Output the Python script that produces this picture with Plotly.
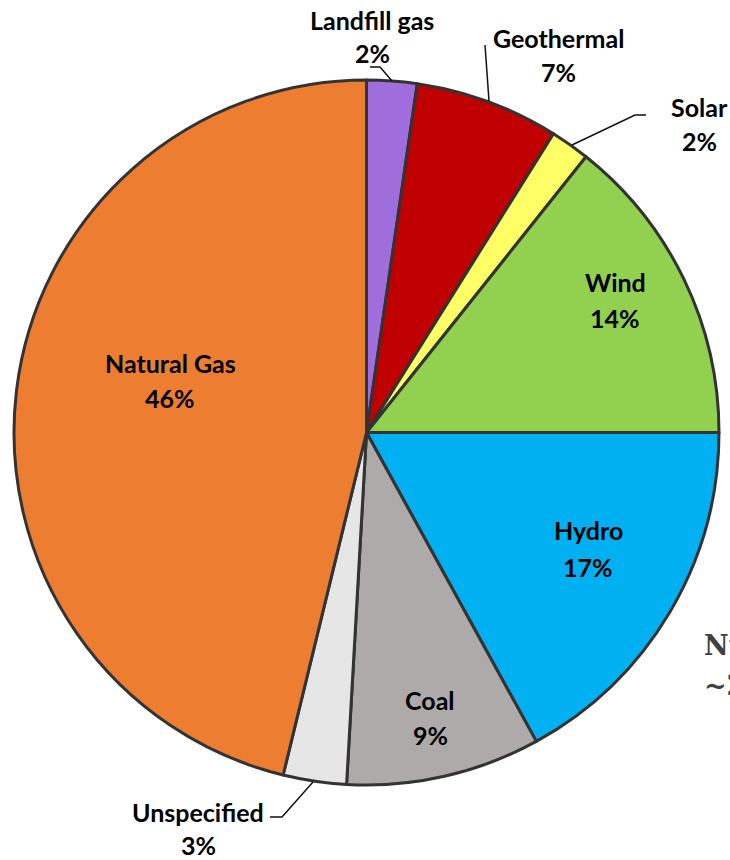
import plotly.graph_objects as go

labels = ["Landfill gas", "Geothermal", "Solar", "Wind", "Hydro", "Coal", "Unspecified", "Natural Gas"]
values = [2.3, 6.6, 1.8, 14.3, 17.0, 8.9, 2.9, 46.2]
colors = ["#A06EDC", "#C00000", "#FFFF66", "#92D050", "#00B0F0", "#AEAAAA", "#E7E6E6", "#ED7D31"]

W, H = 730, 860
# label anchor positions (pixels, name line / pct line)
label_pos = {
    "Landfill gas": (372, 20, 53),
    "Geothermal": (558, 38, 72),
    "Solar": (699, 107, 141),
    "Wind": (615, 282, 318),
    "Hydro": (588, 530, 567),
    "Coal": (430, 700, 735),
    "Unspecified": (198, 812, 845),
    "Natural Gas": (170, 363, 398),
}
leaders = [
    [(370, 67), (380, 67), (392, 81)],
    [(485, 45), (489, 101)],
    [(646, 115), (635, 115), (572, 145)],
    [(270, 817), (282, 817), (313, 782)],
]

fig = go.Figure(go.Pie(
    labels=labels, values=values, sort=False, direction="clockwise", rotation=0,
    marker=dict(colors=colors, line=dict(color="#333333", width=3)),
    textinfo="none", hoverinfo="label+percent", showlegend=False,
    domain=dict(x=[14 / W, 719 / W], y=[(H - 785) / H, (H - 80) / H]),
))

font = dict(family="Lato, Open Sans, sans-serif", size=25, color="#000000")
annotations = []
for lab, v in zip(labels, values):
    x, y1, y2 = label_pos[lab]
    annotations.append(dict(x=x / W, y=1 - y1 / H, xref="paper", yref="paper", text=f"<b>{lab}</b>",
                            showarrow=False, font=font, xanchor="center", yanchor="middle"))
    annotations.append(dict(x=x / W, y=1 - y2 / H, xref="paper", yref="paper", text=f"<b>{round(v)}%</b>",
                            showarrow=False, font=font, xanchor="center", yanchor="middle"))

serif = dict(family="DejaVu Serif, Liberation Serif, serif", size=27, color="#404040")
annotations.append(dict(x=702 / W, y=1 - 645 / H, xref="paper", yref="paper", text="<b>Nuclear</b>",
                        showarrow=False, font=serif, xanchor="left", yanchor="middle"))
annotations.append(dict(x=702 / W, y=1 - 685 / H, xref="paper", yref="paper", text="<b>~2%</b>",
                        showarrow=False, font=serif, xanchor="left", yanchor="middle"))

shapes = []
for pts in leaders:
    path = "M " + " L ".join(f"{px / W},{1 - py / H}" for px, py in pts)
    shapes.append(dict(type="path", path=path, xref="paper", yref="paper",
                       line=dict(color="#111111", width=1.5)))

fig.update_layout(width=W, height=H, margin=dict(l=0, r=0, t=0, b=0),
                  paper_bgcolor="white", plot_bgcolor="white",
                  annotations=annotations, shapes=shapes)
fig.write_html("out.html")
